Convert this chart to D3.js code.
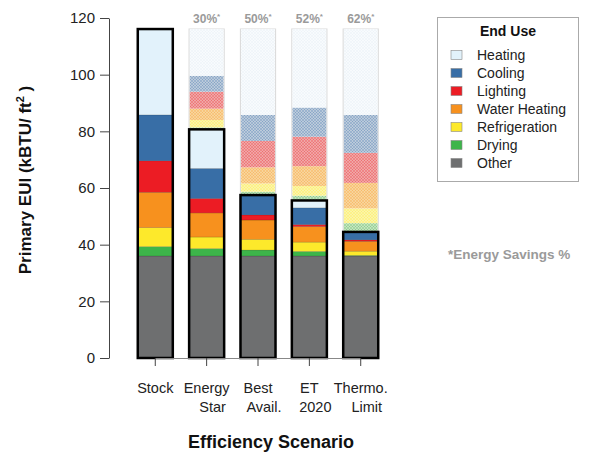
<!DOCTYPE html>
<html>
<head>
<meta charset="utf-8">
<script src="https://cdn.jsdelivr.net/npm/d3@7"></script>
<style>
  body { margin: 0; background: #fff; }
  text { font-family: "Liberation Sans", Arial, Helvetica, sans-serif; }
</style>
</head>
<body>
<svg id="chart" width="594" height="455"></svg>
<script>
// scenarios along x, end uses stacked bottom -> top
const scenarios = ["Stock", "Energy Star", "Best Avail.", "ET 2020", "Thermo. Limit"];
const scenarioLines = [["Stock"], ["Energy", "Star"], ["Best", "Avail."], ["ET", "2020"], ["Thermo.", "Limit"]];
const savingsLabels = ["", "30%", "50%", "52%", "62%"];
const endUses = ["Other", "Drying", "Refrigeration", "Water Heating", "Lighting", "Cooling", "Heating"];

const other = [36, 36, 36, 36, 36];
const drying = [3.3, 2.6, 2.1, 1.6, 0.2];
const refrigeration = [6.7, 4.1, 3.8, 3.3, 1.5];
const waterHeating = [12.5, 8.5, 6.8, 5.5, 3.5];
const lighting = [11.1, 5.1, 1.8, 0.7, 0.5];
const cooling = [16.2, 10.6, 7.0, 5.9, 2.8];
const heating = [30.3, 13.8, 0, 2.6, 0];

const yTicks = [0, 20, 40, 60, 80, 100, 120];

const series = [other, drying, refrigeration, waterHeating, lighting, cooling, heating];
const colors = ["#6e6f70", "#3db54a", "#fde92b", "#f7911e", "#ec1c24", "#386ea6", "#e2f2fb"];
const hatchBg = ["#cccccc", "#c4e3bf", "#fbf4aa", "#f8d59c", "#f0a7a6", "#bccbdb", "#f8fbfd"];

const svg = d3.select("#chart");

const y = d3.scaleLinear().domain([0, 120]).range([358, 18]);
const x = d3
  .scaleBand()
  .domain(scenarios)
  .range([129.6, 386.4])
  .paddingInner(0.318)
  .paddingOuter(0.159);

// hatch patterns
const defs = svg.append("defs");
endUses.forEach(function(u, k) {
  const p = defs
    .append("pattern")
    .attr("id", "hatch" + k)
    .attr("patternUnits", "userSpaceOnUse")
    .attr("width", 3)
    .attr("height", 3);
  p.append("rect").attr("width", 3).attr("height", 3).attr("fill", hatchBg[k]);
  p.append("path")
    .attr("d", "M0,0L3,3M3,0L0,3")
    .attr("stroke", k === 6 ? "#e6edf3" : colors[k])
    .attr("stroke-opacity", k === 6 ? 0.45 : 0.3)
    .attr("stroke-width", 0.8);
});

const stockTotal = d3.sum(series, function(s) { return s[0]; });

scenarios.forEach(function(sc, i) {
  const g = svg.append("g");
  const x0 = x(sc);
  const w = x.bandwidth();
  const total = d3.sum(series, function(s) { return s[i]; });

  if (i > 0) {
    // light frame up to the stock level
    g.append("rect")
      .attr("x", x0)
      .attr("y", y(stockTotal))
      .attr("width", w)
      .attr("height", y(0) - y(stockTotal))
      .attr("fill", "#fff")
      .attr("stroke", "#dcdcdc")
      .attr("stroke-width", 1.2);

    // savings against stock, stacked above the scenario bar
    let base = total;
    series.forEach(function(s, k) {
      const d = s[0] - s[i];
      if (d <= 0) return;
      g.append("rect")
        .attr("x", x0 + 0.6)
        .attr("y", y(base + d))
        .attr("width", w - 1.2)
        .attr("height", y(base) - y(base + d))
        .attr("fill", "url(#hatch" + k + ")");
      base += d;
    });
  }

  let cum = 0;
  series.forEach(function(s, k) {
    const v = s[i];
    if (v <= 0) return;
    g.append("rect")
      .attr("x", x0)
      .attr("y", y(cum + v))
      .attr("width", w)
      .attr("height", y(cum) - y(cum + v))
      .attr("fill", colors[k])
      .attr("stroke", "rgba(0,0,0,0.25)")
      .attr("stroke-width", 0.5);
    cum += v;
  });

  g.append("rect")
    .attr("x", x0)
    .attr("y", y(total))
    .attr("width", w)
    .attr("height", y(0) - y(total))
    .attr("fill", "none")
    .attr("stroke", "#000")
    .attr("stroke-width", 2.5);

  if (savingsLabels[i]) {
    const t = svg
      .append("text")
      .attr("x", x0 + w / 2)
      .attr("y", 23)
      .attr("text-anchor", "middle")
      .attr("fill", "#9a9a9a")
      .attr("font-weight", "bold")
      .attr("font-size", 12);
    t.append("tspan").text(savingsLabels[i]);
    t.append("tspan").attr("font-size", 8).attr("dy", -4).text("*");
  }
});

// y axis
const yAxis = svg
  .append("g")
  .attr("transform", "translate(109,0)")
  .call(d3.axisLeft(y).tickValues(yTicks).tickSize(9).tickPadding(5).tickSizeOuter(0));
yAxis.select(".domain").attr("stroke", "#444");
yAxis.selectAll(".tick line").attr("stroke", "#444");
yAxis.selectAll(".tick text")
  .attr("font-size", 15)
  .attr("fill", "#222")
  .attr("font-family", "Liberation Sans, Arial, sans-serif");

// x axis (line between first and last tick)
const centers = scenarios.map(function(s) { return x(s) + x.bandwidth() / 2; });
svg.append("line")
  .attr("x1", centers[0])
  .attr("x2", centers[centers.length - 1])
  .attr("y1", 358.5)
  .attr("y2", 358.5)
  .attr("stroke", "#888")
  .attr("stroke-width", 1);
scenarios.forEach(function(sc, i) {
  svg.append("line")
    .attr("x1", centers[i])
    .attr("x2", centers[i])
    .attr("y1", 358)
    .attr("y2", 366)
    .attr("stroke", "#444");
  const t = svg
    .append("text")
    .attr("x", centers[i])
    .attr("y", 393)
    .attr("text-anchor", "middle")
    .attr("font-size", 14.5)
    .attr("fill", "#222");
  scenarioLines[i].forEach(function(line, j) {
    t.append("tspan")
      .attr("x", centers[i] + (j === 1 && i > 0 ? 6 : 0))
      .attr("dy", j === 0 ? 0 : 18.5)
      .text(line);
  });
});

// axis titles
svg.append("text")
  .attr("x", 271)
  .attr("y", 448)
  .attr("text-anchor", "middle")
  .attr("font-size", 18)
  .attr("font-weight", "bold")
  .attr("fill", "#111")
  .text("Efficiency Scenario");

const yt = svg
  .append("text")
  .attr("transform", "translate(31,180) rotate(-90)")
  .attr("text-anchor", "middle")
  .attr("font-size", 17)
  .attr("font-weight", "bold")
  .attr("fill", "#111");
yt.append("tspan").text("Primary EUI (kBTU/ ft");
yt.append("tspan").attr("font-size", 11).attr("dy", -7).text("2");
yt.append("tspan").attr("dy", 7).text(" )");

// legend
const lg = svg.append("g");
lg.append("rect")
  .attr("x", 437.5)
  .attr("y", 17.5)
  .attr("width", 141)
  .attr("height", 164)
  .attr("fill", "#fff")
  .attr("stroke", "#aaa")
  .attr("stroke-width", 1);
lg.append("text")
  .attr("x", 508)
  .attr("y", 36)
  .attr("text-anchor", "middle")
  .attr("font-size", 14)
  .attr("font-weight", "bold")
  .attr("fill", "#111")
  .text("End Use");
endUses.slice().reverse().forEach(function(u, j) {
  const k = endUses.length - 1 - j;
  const cy = 55 + j * 18;
  lg.append("rect")
    .attr("x", 451)
    .attr("y", cy - 4.5)
    .attr("width", 11)
    .attr("height", 9)
    .attr("fill", colors[k])
    .attr("stroke", "#888")
    .attr("stroke-width", 0.6);
  lg.append("text")
    .attr("x", 477)
    .attr("y", cy + 5)
    .attr("font-size", 14)
    .attr("fill", "#222")
    .text(u);
});

svg.append("text")
  .attr("x", 448)
  .attr("y", 259)
  .attr("font-size", 13.5)
  .attr("font-weight", "bold")
  .attr("fill", "#9a9a9a")
  .text("*Energy Savings %");
</script>
</body>
</html>
